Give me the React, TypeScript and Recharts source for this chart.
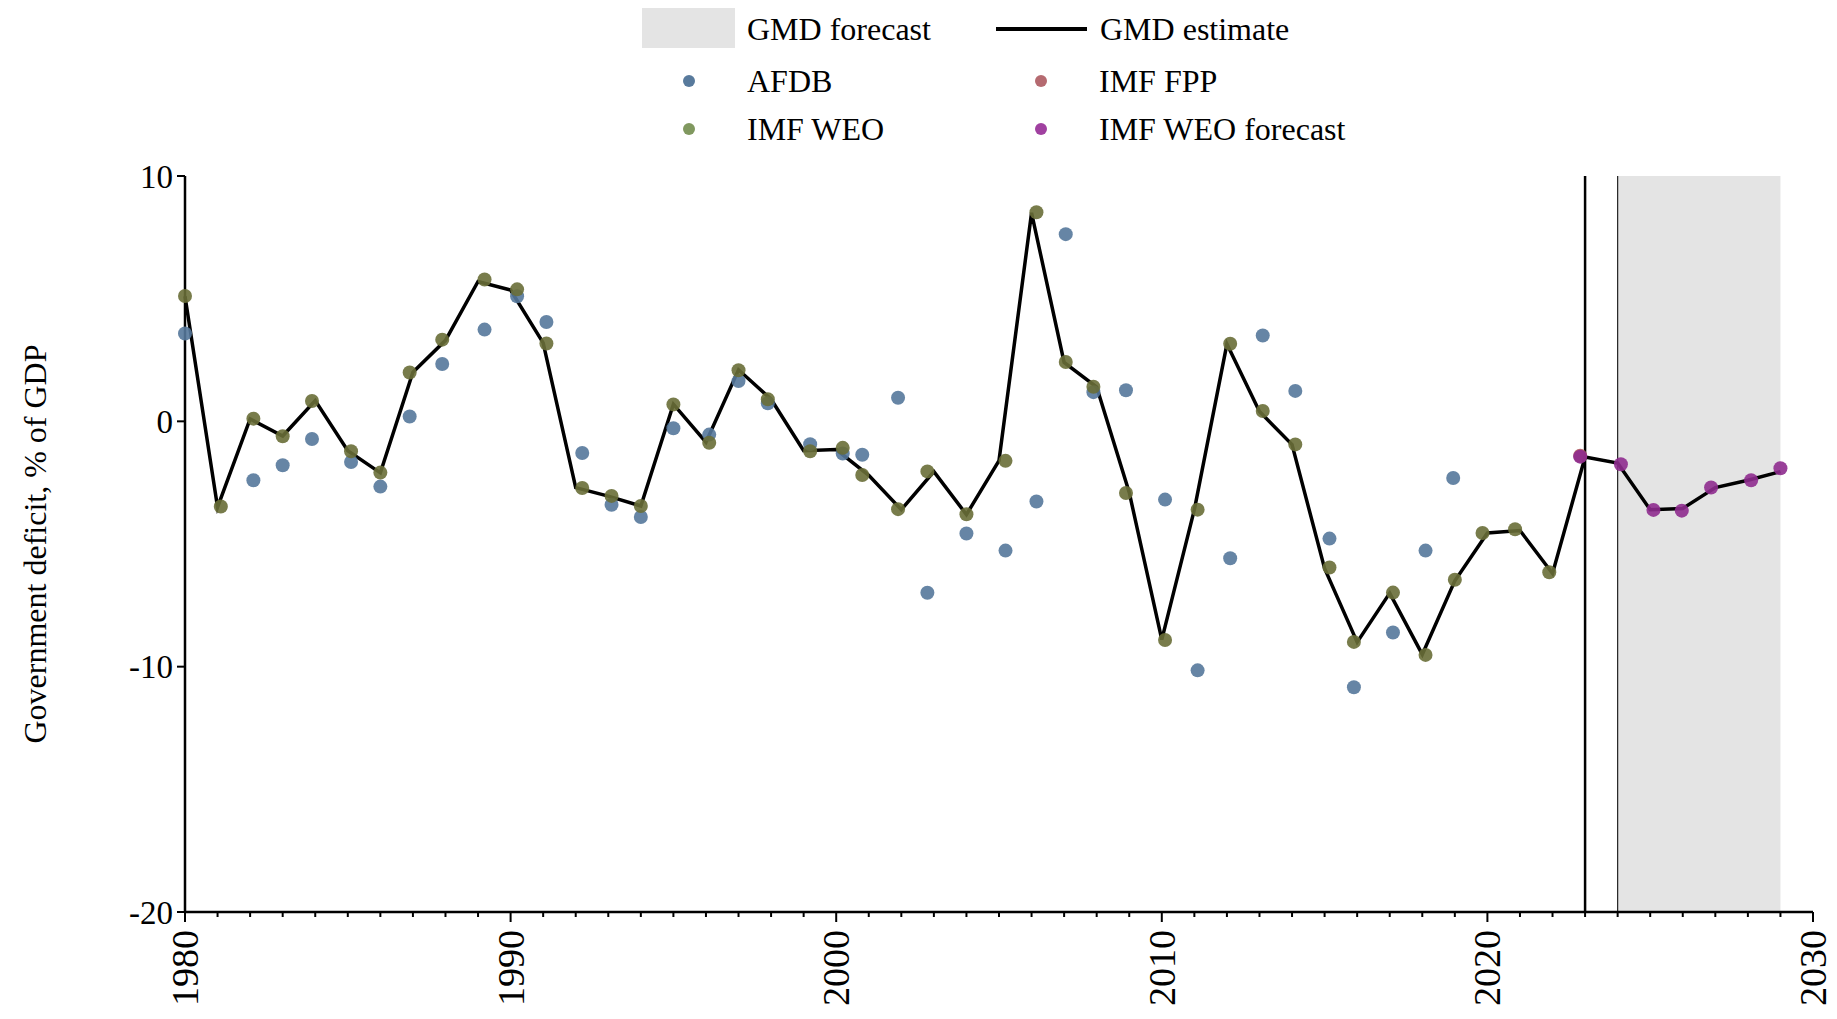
import React from 'react'
import {
  ComposedChart, Line, Scatter, XAxis, YAxis, ReferenceArea, ReferenceLine,
} from 'recharts'

const FONT = '"Liberation Serif", "Times New Roman", serif'

// GMD estimate line, one value per year
const gmdYears = [
  1980, 1981, 1982, 1983, 1984, 1985, 1986, 1987, 1988, 1989,
  1990, 1991, 1992, 1993, 1994, 1995, 1996, 1997, 1998, 1999,
  2000, 2001, 2002, 2003, 2004, 2005, 2006, 2007, 2008, 2009,
  2010, 2011, 2012, 2013, 2014, 2015, 2016, 2017, 2018, 2019,
  2020, 2021, 2022, 2023, 2024, 2025, 2026, 2027, 2028, 2029,
]
const gmdValues = [
  5.1, -3.5, 0.1, -0.6, 0.85, -1.2, -2.1, 2.0, 3.3, 5.7,
  5.35, 3.2, -2.7, -3.05, -3.45, 0.7, -0.85, 2.1, 0.9, -1.2,
  -1.15, -2.2, -3.6, -2.05, -3.8, -1.6, 8.5, 2.4, 1.4, -2.9,
  -8.9, -3.6, 3.15, 0.4, -0.95, -6.0, -9.0, -7.0, -9.5, -6.5,
  -4.55, -4.45, -6.2, -1.45, -1.7, -3.6, -3.55, -2.7, -2.4, -2.05,
]

// source points (x is slightly jittered around the year)
const afdbYears = [
  1980.0, 1982.1, 1983.0, 1983.9, 1985.1, 1986.0, 1986.9, 1987.9, 1989.2, 1990.2,
  1991.1, 1992.2, 1993.1, 1994.0, 1995.0, 1996.1, 1997.0, 1997.9, 1999.2, 2000.2,
  2000.8, 2001.9, 2002.8, 2004.0, 2005.2, 2006.15, 2007.05, 2007.9, 2008.9, 2010.1,
  2011.1, 2012.1, 2013.1, 2014.1, 2015.15, 2015.9, 2017.1, 2018.1, 2018.95,
]
const afdbValues = [
  3.58, -2.4, -1.79, -0.72, -1.66, -2.66, 0.2, 2.34, 3.74, 5.1,
  4.05, -1.29, -3.4, -3.9, -0.28, -0.54, 1.64, 0.74, -0.93, -1.31,
  -1.36, 0.96, -6.99, -4.57, -5.27, -3.27, 7.63, 1.19, 1.27, -3.19,
  -10.15, -5.58, 3.5, 1.24, -4.78, -10.84, -8.61, -5.27, -2.31,
]

const weoYears = [
  1980.0, 1981.1, 1982.1, 1983.0, 1983.9, 1985.1, 1986.0, 1986.9, 1987.9, 1989.2,
  1990.2, 1991.1, 1992.2, 1993.1, 1994.0, 1995.0, 1996.1, 1997.0, 1997.9, 1999.2,
  2000.2, 2000.8, 2001.9, 2002.8, 2004.0, 2005.2, 2006.15, 2007.05, 2007.9, 2008.9,
  2010.1, 2011.1, 2012.1, 2013.1, 2014.1, 2015.15, 2015.9, 2017.1, 2018.1, 2019.0,
  2019.85, 2020.85, 2021.9,
]
const weoValues = [
  5.11, -3.47, 0.11, -0.61, 0.83, -1.22, -2.09, 1.99, 3.33, 5.78,
  5.38, 3.17, -2.72, -3.04, -3.45, 0.69, -0.87, 2.08, 0.9, -1.22,
  -1.08, -2.19, -3.58, -2.04, -3.79, -1.61, 8.52, 2.42, 1.41, -2.92,
  -8.91, -3.6, 3.16, 0.42, -0.94, -5.96, -8.99, -6.98, -9.52, -6.46,
  -4.55, -4.4, -6.15,
]

const fppYears = [2022.85]
const fppValues = [-1.4]

const weoForecastYears = [2022.85, 2024.1, 2025.1, 2025.97, 2026.87, 2028.1, 2029.0]
const weoForecastValues = [-1.44, -1.75, -3.61, -3.64, -2.7, -2.4, -1.91]

const xTicks = [
  1980, 1981, 1982, 1983, 1984, 1985, 1986, 1987, 1988, 1989,
  1990, 1991, 1992, 1993, 1994, 1995, 1996, 1997, 1998, 1999,
  2000, 2001, 2002, 2003, 2004, 2005, 2006, 2007, 2008, 2009,
  2010, 2011, 2012, 2013, 2014, 2015, 2016, 2017, 2018, 2019,
  2020, 2021, 2022, 2023, 2024, 2025, 2026, 2027, 2028, 2029, 2030,
]
const yTicks = [-20, -10, 0, 10]

const FORECAST_START = 2024
const FORECAST_END = 2029
const LAST_ACTUAL = 2023

const toPoints = (xs: number[], ys: number[]) => xs.map((x, i) => ({ x, y: ys[i] }))

const gmdData = toPoints(gmdYears, gmdValues)
const afdbData = toPoints(afdbYears, afdbValues)
const weoData = toPoints(weoYears, weoValues)
const fppData = toPoints(fppYears, fppValues)
const forecastData = toPoints(weoForecastYears, weoForecastValues)

const dot = (fill: string) => (props: any) => (
  <circle cx={props.cx} cy={props.cy} r={7} fill={fill} fillOpacity={0.9} />
)

const XTick = (props: any) => {
  const { x, y, payload } = props
  const major = payload.value % 10 === 0
  return (
    <g>
      <line x1={x} x2={x} y1={y} y2={y + (major ? 10 : 5)} stroke="#000" strokeWidth={2} />
      {major && (
        <text
          transform={`translate(${x}, ${y + 18}) rotate(-90)`}
          textAnchor="end"
          dominantBaseline="central"
          fontSize={38}
          fontFamily={FONT}
          fill="#000"
        >
          {payload.value}
        </text>
      )}
    </g>
  )
}

const legendRow = { position: 'absolute' as const, fontSize: 32, fontFamily: FONT, lineHeight: '32px', color: '#000' }

function LegendBlock() {
  const markers = [
    { label: 'AFDB', color: '#587a9c', left: 689, top: 81 },
    { label: 'IMF WEO', color: '#80985f', left: 689, top: 129 },
    { label: 'IMF FPP', color: '#b56a70', left: 1041, top: 81 },
    { label: 'IMF WEO forecast', color: '#a040a0', left: 1041, top: 129 },
  ]
  return (
    <>
      <div style={{ position: 'absolute', left: 642, top: 8, width: 93, height: 40, background: '#e4e4e4' }} />
      <div style={{ ...legendRow, left: 747, top: 13 }}>GMD forecast</div>
      <div style={{ position: 'absolute', left: 996, top: 27, width: 91, height: 4, background: '#000' }} />
      <div style={{ ...legendRow, left: 1100, top: 13 }}>GMD estimate</div>
      {markers.map((m) => (
        <React.Fragment key={m.label}>
          <div
            style={{
              position: 'absolute', left: m.left - 6, top: m.top - 6, width: 12, height: 12,
              borderRadius: '50%', background: m.color,
            }}
          />
          <div style={{ ...legendRow, left: m.left + 58, top: m.top - 16 }}>{m.label}</div>
        </React.Fragment>
      ))}
    </>
  )
}

export default function App() {
  return (
    <div style={{ position: 'absolute', left: 0, top: 0, width: 1837, height: 1019, background: '#fff' }}>
      <ComposedChart
        width={1837}
        height={1019}
        margin={{ top: 176, right: 24, bottom: 0, left: 0 }}
      >
        <XAxis
          dataKey="x"
          type="number"
          domain={[1980, 2030]}
          ticks={xTicks}
          interval={0}
          height={107}
          tickSize={0}
          tickMargin={0}
          tickLine={false}
          tick={<XTick />}
          axisLine={{ stroke: '#000', strokeWidth: 2.5 }}
        />
        <YAxis
          type="number"
          domain={[-20, 10]}
          ticks={yTicks}
          interval={0}
          width={185}
          tickSize={8}
          tickMargin={4}
          tickLine={{ stroke: '#000', strokeWidth: 2 }}
          axisLine={{ stroke: '#000', strokeWidth: 2.5 }}
          tick={{ fontSize: 33, fontFamily: FONT, fill: '#000' }}
          label={({ viewBox }: any) => (
            <text
              transform={`translate(${viewBox.x + 35}, ${viewBox.y + viewBox.height / 2}) rotate(-90)`}
              textAnchor="middle"
              dominantBaseline="central"
              fontSize={32}
              fontFamily={FONT}
              fill="#000"
            >
              Government deficit, % of GDP
            </text>
          )}
        />
        <ReferenceArea
          x1={FORECAST_START}
          x2={FORECAST_END}
          y1={-20}
          y2={10}
          fill="#e4e4e4"
          fillOpacity={1}
          stroke="none"
        />
        <ReferenceLine x={LAST_ACTUAL} stroke="#000" strokeWidth={2.5} />
        <ReferenceLine x={FORECAST_START} stroke="#222" strokeWidth={1.2} />
        <Line
          data={gmdData}
          dataKey="y"
          type="linear"
          stroke="#000"
          strokeWidth={3.5}
          dot={false}
          isAnimationActive={false}
        />
        <Scatter data={afdbData} dataKey="y" shape={dot('#55789b')} isAnimationActive={false} />
        <Scatter data={fppData} dataKey="y" shape={dot('#b05a60')} isAnimationActive={false} />
        <Scatter data={weoData} dataKey="y" shape={dot('#696e37')} isAnimationActive={false} />
        <Scatter data={forecastData} dataKey="y" shape={dot('#8e2b8e')} isAnimationActive={false} />
      </ComposedChart>
      <LegendBlock />
    </div>
  )
}
